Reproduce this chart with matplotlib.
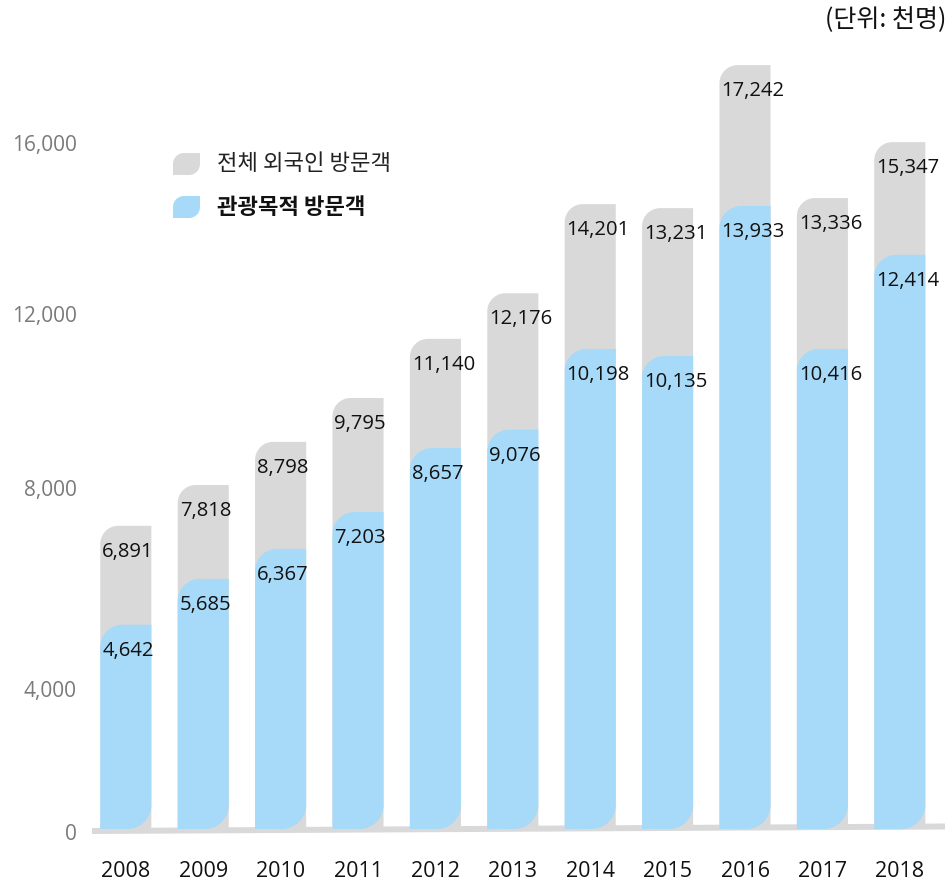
import numpy as np
import matplotlib.pyplot as plt
from matplotlib.path import Path
from matplotlib.patches import PathPatch
from matplotlib.transforms import Affine2D

plt.rcParams['font.family'] = ['Open Sans', 'Noto Sans CJK KR', 'DejaVu Sans']

years = ['2008', '2009', '2010', '2011', '2012', '2013', '2014', '2015', '2016', '2017', '2018']
# values printed on the bars (천명)
total_lbl = [6891, 7818, 8798, 9795, 11140, 12176, 14201, 13231, 17242, 13336, 15347]
tour_lbl = [4642, 5685, 6367, 7203, 8657, 9076, 10198, 10135, 13933, 10416, 12414]
# bar heights as drawn in the original (the later bars are a bit taller than their labels)
total_bar = [6891, 7818, 8798, 9795, 11140, 12176, 14201, 14110, 17360, 14340, 15610]
tour_bar = [4642, 5685, 6367, 7203, 8657, 9076, 10910, 10750, 14160, 10910, 13050]
# y labels sit a bit off their true values in the original
ytick_pos = [-70, 3180, 7750, 11700, 15590]
ytick_lbl = ['0', '4,000', '8,000', '12,000', '16,000']

GRAY = '#d9d9d9'
BLUE = '#a6daf8'
K = 0.5523


def leaf_path(x0, x1, y0, y1, tl=(0, 0), br=(0, 0)):
    # rectangle with rounded top-left and bottom-right corners (radii given per axis)
    tx, ty = tl
    bx, by = br
    verts = [(x0, y0), (x1 - bx, y0)]
    codes = [Path.MOVETO, Path.LINETO]
    if bx > 0:
        verts += [(x1 - bx + K * bx, y0), (x1, y0 + by - K * by), (x1, y0 + by)]
        codes += [Path.CURVE4] * 3
    verts += [(x1, y1), (x0 + tx, y1)]
    codes += [Path.LINETO, Path.LINETO]
    if tx > 0:
        verts += [(x0 + tx - K * tx, y1), (x0, y1 - ty + K * ty), (x0, y1 - ty)]
        codes += [Path.CURVE4] * 3
    verts += [(x0, y0)]
    codes += [Path.CLOSEPOLY]
    return Path(verts, codes)


fig = plt.figure(figsize=(9.49, 8.85), dpi=100)
ax = fig.add_axes([92 / 949, 35 / 885, 853 / 949, 830 / 885])
ax.set_xlim(-0.437, 10.584)
ax.set_ylim(-477, 18386)
for s in ax.spines.values():
    s.set_visible(False)

x = np.arange(len(years))
w = 0.66

# pixel -> data unit factors for the rounded corners
p0 = ax.transData.transform((0, 0))
p1 = ax.transData.transform((1, 1000))
px_x = p1[0] - p0[0]
px_y = (p1[1] - p0[1]) / 1000

def r(px):
    return (px / px_x, px / px_y)

# tilted base line
ax.plot([-0.437, 10.584], [-45, 57], color=GRAY, lw=4.3, solid_capstyle='butt',
        zorder=1, clip_on=False)

for i in range(len(years)):
    x0, x1 = x[i] - w / 2, x[i] + w / 2
    ax.add_patch(PathPatch(leaf_path(x0, x1, 0, total_bar[i], tl=r(18)),
                           fc=GRAY, ec='none', zorder=2))
    ax.add_patch(PathPatch(leaf_path(x0, x1, 0, tour_bar[i], tl=r(22), br=r(24)),
                           fc=BLUE, ec='none', zorder=3))
    ax.annotate(f'{total_lbl[i]:,}', xy=(x0, total_bar[i]), xytext=(2, -26),
                textcoords='offset pixels', ha='left', va='center',
                fontsize=14.6, color='#111111', zorder=4)
    ax.annotate(f'{tour_lbl[i]:,}', xy=(x0, tour_bar[i]), xytext=(2, -26),
                textcoords='offset pixels', ha='left', va='center',
                fontsize=14.6, color='#111111', zorder=4)

ax.set_xticks(x, years)
ax.set_yticks(ytick_pos, ytick_lbl)
ax.tick_params(axis='x', length=0, pad=8, labelsize=15.5, labelcolor='#111111')
ax.tick_params(axis='y', length=0, pad=11, labelsize=15, labelcolor='#7a7a7a')

# legend drawn by hand in figure pixels
pix = Affine2D().scale(1 / 949, 1 / 885) + fig.transFigure
for y_top, col in [(153, GRAY), (196, BLUE)]:
    yb = 885 - y_top - 22
    fig.add_artist(PathPatch(leaf_path(173, 200, yb, yb + 22, tl=(11, 11), br=(11, 11)),
                             fc=col, ec='none', transform=pix))
fig.text(217 / 949, (885 - 164) / 885, '전체 외국인 방문객', ha='left', va='center',
         fontsize=16, color='#222222', family=['Noto Sans CJK KR', 'DejaVu Sans'])
fig.text(217 / 949, (885 - 207) / 885, '관광목적 방문객', ha='left', va='center',
         fontsize=16, fontweight='bold', color='#111111',
         family=['Noto Sans CJK KR', 'DejaVu Sans'])
fig.text(946 / 949, (885 - 20) / 885, '(단위: 천명)', ha='right', va='center',
         fontsize=18, color='#111111', family=['Noto Sans CJK KR', 'DejaVu Sans'])

fig.savefig('out.png', dpi=100, facecolor='white')
